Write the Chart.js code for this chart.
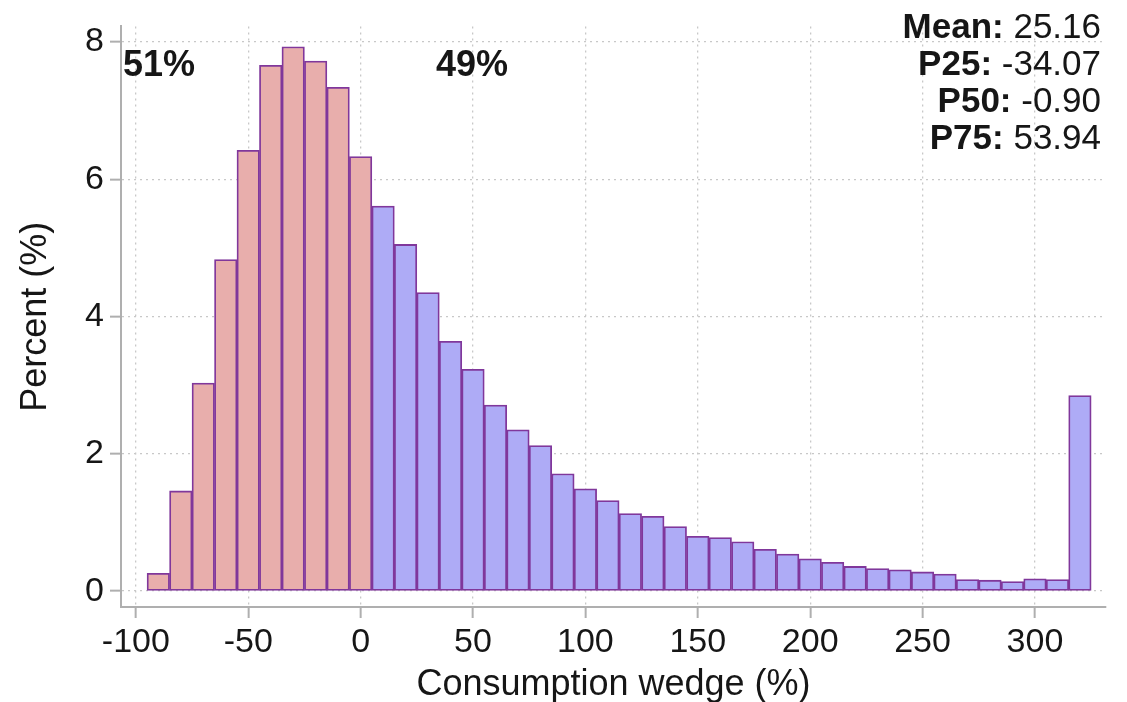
<!DOCTYPE html>
<html>
<head>
<meta charset="utf-8">
<title>Consumption wedge histogram</title>
<script src="https://cdn.jsdelivr.net/npm/chart.js@4.4.1/dist/chart.umd.min.js"></script>
<style>
    html, body { margin: 0; padding: 0; background: #ffffff; }
    #wrap { width: 1127px; height: 702px; }
</style>
</head>
<body>
<div id="wrap"><canvas id="chart" width="1127" height="702"></canvas></div>
<script>
// 数据
const negCenters = [-90, -80, -70, -60, -50, -40, -30, -20, -10, 0];
const negValues = [0.26, 1.46, 3.03, 4.83, 6.42, 7.66, 7.93, 7.72, 7.34, 6.33];

const posCenters = [10, 20, 30, 40, 50, 60, 70, 80, 90, 100,
    110, 120, 130, 140, 150, 160, 170, 180, 190, 200,
    210, 220, 230, 240, 250, 260, 270, 280, 290, 300,
    310, 320];
const posValues = [5.61, 5.05, 4.35, 3.64, 3.23, 2.71, 2.35, 2.12, 1.71, 1.49,
    1.32, 1.13, 1.09, 0.94, 0.80, 0.78, 0.72, 0.61, 0.54, 0.47,
    0.42, 0.36, 0.33, 0.31, 0.28, 0.25, 0.17, 0.16, 0.14, 0.18,
    0.17, 2.85];

const xTickValues = [-100, -50, 0, 50, 100, 150, 200, 250, 300];
const yTickValues = [0, 2, 4, 6, 8];

const shareLabels = ['51%', '49%'];
const statLabels = ['Mean:', 'P25:', 'P50:', 'P75:'];
const statValues = ['25.16', '-34.07', '-0.90', '53.94'];

// 样式
const FONT = "'Liberation Sans', Arial, Helvetica, sans-serif";
const TEXT_COLOR = '#161616';
const AXIS_GRAY = 'rgb(175,175,175)';
const GRID_GRAY = 'rgb(200,200,200)';

Chart.defaults.font.family = FONT;
Chart.defaults.color = TEXT_COLOR;

function toPoints(xs, ys) {
    return xs.map((x, i) => ({ x: x, y: ys[i] }));
}

// annotation text drawn on top of the chart
const textPlugin = {
    id: 'wedgeText',
    afterDraw(chart) {
        const ctx = chart.ctx;
        ctx.save();
        ctx.fillStyle = TEXT_COLOR;
        ctx.textBaseline = 'alphabetic';

        ctx.font = 'bold 36px ' + FONT;
        ctx.textAlign = 'left';
        ctx.fillText(shareLabels[0], 123, 76);
        ctx.fillText(shareLabels[1], 436, 76);

        const right = 1101;
        const baselines = [37.5, 74.5, 111.5, 148.5];
        statLabels.forEach((label, i) => {
            const value = ' ' + statValues[i];
            ctx.textAlign = 'right';
            ctx.font = '35px ' + FONT;
            ctx.fillText(value, right, baselines[i]);
            const w = ctx.measureText(value).width;
            ctx.font = 'bold 35px ' + FONT;
            ctx.fillText(label, right - w, baselines[i]);
        });
        ctx.restore();
    }
};

const barStyle = {
    borderColor: 'rgb(128,55,155)',
    borderWidth: 1.8,
    borderSkipped: false,
    barPercentage: 1.0,
    categoryPercentage: 1.0,
    grouped: false
};

new Chart(document.getElementById('chart'), {
    type: 'bar',
    data: {
        datasets: [
            Object.assign({
                label: 'negative',
                data: toPoints(negCenters, negValues),
                backgroundColor: 'rgb(232,174,172)'
            }, barStyle),
            Object.assign({
                label: 'positive',
                data: toPoints(posCenters, posValues),
                backgroundColor: 'rgb(174,171,246)'
            }, barStyle)
        ]
    },
    options: {
        responsive: false,
        devicePixelRatio: 1,
        animation: false,
        layout: { padding: { top: 10, right: 21, left: 0, bottom: 0 } },
        plugins: {
            legend: { display: false },
            tooltip: { enabled: false }
        },
        scales: {
            x: {
                type: 'linear',
                offset: false,
                min: -106.6,
                max: 331.6,
                afterFit(scale) { scale.height = 95; },
                afterBuildTicks(scale) { scale.ticks = xTickValues.map(v => ({ value: v })); },
                ticks: {
                    includeBounds: false,
                    autoSkip: false,
                    maxRotation: 0,
                    padding: 4,
                    font: { size: 34 },
                    color: TEXT_COLOR
                },
                grid: {
                    offset: false,
                    color: GRID_GRAY,
                    lineWidth: 1.3,
                    tickColor: AXIS_GRAY,
                    tickWidth: 2,
                    tickLength: 11
                },
                border: { display: true, color: AXIS_GRAY, width: 2, dash: [2, 4] },
                title: {
                    display: true,
                    text: 'Consumption wedge (%)',
                    font: { size: 36, lineHeight: 1 },
                    padding: { top: 0, bottom: -1 },
                    color: TEXT_COLOR
                }
            },
            y: {
                type: 'linear',
                min: -0.231,
                max: 8.226,
                afterFit(scale) { scale.width = 121; },
                afterBuildTicks(scale) { scale.ticks = yTickValues.map(v => ({ value: v })); },
                ticks: {
                    includeBounds: false,
                    padding: 6,
                    font: { size: 34 },
                    color: TEXT_COLOR
                },
                grid: {
                    color: GRID_GRAY,
                    lineWidth: 1.3,
                    tickColor: AXIS_GRAY,
                    tickWidth: 2,
                    tickLength: 11
                },
                border: { display: true, color: AXIS_GRAY, width: 2, dash: [2, 4] },
                title: {
                    display: true,
                    text: 'Percent (%)',
                    font: { size: 36, lineHeight: 1 },
                    padding: { top: 18, bottom: 0 },
                    color: TEXT_COLOR
                }
            }
        }
    },
    plugins: [textPlugin]
});
</script>
</body>
</html>
